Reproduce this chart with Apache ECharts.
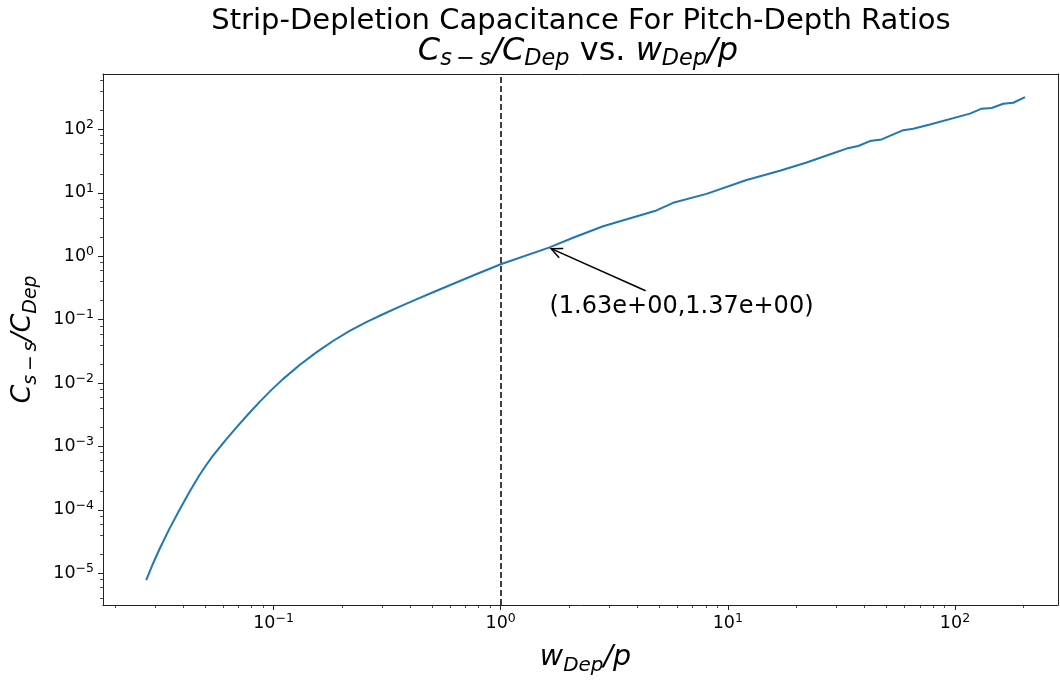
<!DOCTYPE html>
<html><head><meta charset="utf-8">
<script src="https://cdn.jsdelivr.net/npm/echarts@6/dist/echarts.min.js"></script>
<style>html,body{margin:0;padding:0;background:#fff}#c{width:1060px;height:681px}</style>
</head><body><div id="c"></div>
<script>
// ---- data ----
const xValues = [0.02749,0.0294,0.03147,0.03481,0.03855,0.04266,0.04721,0.05051,0.054,0.06082,0.06849,0.07709,0.0868,0.09763,0.1099,0.1302,0.1542,0.1826,0.2162,0.256,0.303,0.359,0.4251,0.5035,0.5963,0.7747,1.0,1.63,2.082,2.823,4.852,5.742,8.056,12.09,16.95,22.22,29.1,33.34,37.5,42.23,47.54,59.19,65.5,77.6,116.4,131.1,145.1,163.2,180.6,203.4];
const yValues = [7.77e-6,1.402e-5,2.414e-5,5.066e-5,1.007e-4,1.939e-4,3.548e-4,5.103e-4,7.106e-4,1.206e-3,1.981e-3,3.196e-3,5.047e-3,7.744e-3,0.01155,0.01925,0.03051,0.04613,0.06659,0.0914,0.1219,0.1608,0.2091,0.2709,0.3498,0.5168,0.7499,1.37,1.958,2.974,5.287,6.975,9.647,15.97,22.3,30.18,42.16,49.97,54.89,65.7,69.75,97.53,102.5,119.7,177.9,212.8,218.3,254.9,264.2,324.4];
const vLineX = [1];
const annotPoint = [1.63, 1.37];
const annotTextPos = [6.25, 0.16];
const annotLabel = '(1.63e+00,1.37e+00)';
const xRange = [0.01774, 284.2];
const yRange = [3.162e-6, 750];
const xMajorTicks = [0.1, 1, 10, 100];
const xMinorTicks = [0.02,0.03,0.04,0.05,0.06,0.07,0.08,0.09,0.2,0.3,0.4,0.5,0.6,0.7,0.8,0.9,2,3,4,5,6,7,8,9,20,30,40,50,60,70,80,90,200];
const yMajorTicks = [1e-5,1e-4,1e-3,1e-2,1e-1,1,10,100];
const yMinorTicks = [4e-6,6e-6,8e-6,2e-5,4e-5,6e-5,8e-5,2e-4,4e-4,6e-4,8e-4,2e-3,4e-3,6e-3,8e-3,0.02,0.04,0.06,0.08,0.2,0.4,0.6,0.8,2,4,6,8,20,40,60,80,200,400,600];
const titleLine1 = 'Strip-Depletion Capacitance For Pitch-Depth Ratios';
const titleLine2 = '{i|C}{sub|s\u2009\u2212\u2009s}{i|/C}{sub|Dep}{n| vs. }{i|w}{sub|Dep}{i|/p}';
const xLabel = '{i|w}{sub|Dep}{i|/p}';
const yLabel = '{i|C}{sub|s\u2009\u2212\u2009s}{i|/C}{sub|Dep}';

const FONT = 'DejaVu Sans';
const AX = '#222';
function supLabel(v) {
  const e = Math.round(Math.log10(v));
  if (Math.abs(Math.log10(v) - e) > 1e-6) return '';
  return '{b|10}{s|' + (e < 0 ? '\u2212' + (-e) : e) + '}';
}
const tickRich = {
  b: {fontFamily: FONT, fontSize: 17.5, lineHeight: 22, color: '#000'},
  s: {fontFamily: FONT, fontSize: 12.5, lineHeight: 13, verticalAlign: 'top', color: '#000'}
};
function mathRich(fs) {
  return {
    i: {fontFamily: FONT, fontStyle: 'italic', fontWeight: 'normal', fontSize: fs, lineHeight: 36, color: '#000'},
    n: {fontFamily: FONT, fontWeight: 'normal', fontSize: fs, lineHeight: 36, color: '#000'},
    sub: {fontFamily: FONT, fontStyle: 'italic', fontWeight: 'normal', fontSize: fs * 0.7, lineHeight: 20, verticalAlign: 'bottom', color: '#000'}
  };
}
const hidden = {axisLabel: {show: false}, splitLine: {show: false}, minorTick: {show: false}, minorSplitLine: {show: false}};

function xAxisDef(extra) {
  return Object.assign({type: 'log', logBase: 10, min: xRange[0], max: xRange[1], gridIndex: 0,
    splitLine: {show: false}, minorTick: {show: false}}, extra);
}
function yAxisDef(extra) {
  return Object.assign({type: 'log', logBase: 10, min: yRange[0], max: yRange[1], gridIndex: 0,
    splitLine: {show: false}, minorTick: {show: false}}, extra);
}

const option = {
  animation: false,
  backgroundColor: '#fff',
  title: [
    {text: titleLine1, left: 576, top: -1, textAlign: 'center',
     textStyle: {fontFamily: FONT, fontSize: 29, fontWeight: 'normal', color: '#000', lineHeight: 34}},
    {text: titleLine2, left: 573, top: 29, textAlign: 'center',
     textStyle: {fontWeight: 'normal', rich: mathRich(32)}}
  ],
  grid: {left: 103, right: 2, top: 74, bottom: 71, containLabel: false},
  xAxis: [
    xAxisDef({position: 'bottom',
      axisLine: {show: true, onZero: false, lineStyle: {color: AX, width: 1}},
      axisTick: {show: true, customValues: xMajorTicks, length: 5, lineStyle: {color: AX, width: 1}},
      axisLabel: {show: true, customValues: xMajorTicks, formatter: supLabel, rich: tickRich, margin: 7},
      name: xLabel, nameLocation: 'middle', nameGap: 35,
      nameTextStyle: {rich: mathRich(28.5), padding: [0, 0, 0, 10]}}),
    xAxisDef(Object.assign({position: 'bottom',
      axisLine: {show: false, onZero: false},
      axisTick: {show: true, customValues: xMinorTicks, length: 3, lineStyle: {color: AX, width: 0.8}}}, hidden)),
    xAxisDef(Object.assign({position: 'top',
      axisLine: {show: true, onZero: false, lineStyle: {color: AX, width: 1}},
      axisTick: {show: false}}, hidden))
  ],
  yAxis: [
    yAxisDef({position: 'left',
      axisLine: {show: true, onZero: false, lineStyle: {color: AX, width: 1}},
      axisTick: {show: true, customValues: yMajorTicks, length: 5, lineStyle: {color: AX, width: 1}},
      axisLabel: {show: true, customValues: yMajorTicks, formatter: supLabel, rich: tickRich, margin: 9},
      name: yLabel, nameLocation: 'middle', nameGap: 62,
      nameTextStyle: {rich: mathRich(27)}}),
    yAxisDef(Object.assign({position: 'left',
      axisLine: {show: false, onZero: false},
      axisTick: {show: true, customValues: yMinorTicks, length: 3, lineStyle: {color: AX, width: 0.8}}}, hidden)),
    yAxisDef(Object.assign({position: 'right',
      axisLine: {show: true, onZero: false, lineStyle: {color: AX, width: 1}},
      axisTick: {show: false}}, hidden))
  ],
  series: [
    {
      type: 'line', xAxisIndex: 0, yAxisIndex: 0,
      data: xValues.map((x, i) => [x, yValues[i]]),
      showSymbol: false, symbol: 'none', clip: true, smooth: false,
      lineStyle: {color: '#1f77b4', width: 2},
      z: 3,
      markLine: {
        silent: true, symbol: ['none', 'none'], label: {show: false},
        lineStyle: {color: '#000', type: [6, 3], width: 1.5},
        data: vLineX.map(v => ({xAxis: v}))
      }
    },
    {
      type: 'custom', xAxisIndex: 0, yAxisIndex: 0, silent: true, z: 10,
      data: [[annotPoint[0], annotPoint[1], annotTextPos[0], annotTextPos[1]]],
      encode: {x: [0, 2], y: [1, 3]},
      renderItem: function (params, api) {
        const pt = api.coord([api.value(0), api.value(1)]);
        const c = api.coord([api.value(2), api.value(3)]);
        const dx = pt[0] - c[0], dy = pt[1] - c[1];
        const len = Math.hypot(dx, dy);
        const ux = dx / len, uy = dy / len;
        const t = 16 / Math.abs(dy);
        const tail = [c[0] + dx * t, c[1] + dy * t];
        const tip = [pt[0] - ux * 2.5, pt[1] - uy * 2.5];
        const hl = 11, hw = 5;
        const w1 = [tip[0] - ux * hl - uy * hw, tip[1] - uy * hl + ux * hw];
        const w2 = [tip[0] - ux * hl + uy * hw, tip[1] - uy * hl - ux * hw];
        return {
          type: 'group',
          children: [
            {type: 'line', shape: {x1: tail[0], y1: tail[1], x2: tip[0], y2: tip[1]},
             style: {stroke: '#000', lineWidth: 1.5}},
            {type: 'polyline', shape: {points: [w1, tip, w2]},
             style: {stroke: '#000', lineWidth: 1.5, fill: null}},
            {type: 'text', x: c[0], y: c[1],
             style: {text: annotLabel, fontFamily: FONT, fontSize: 24, fill: '#000',
                     align: 'center', verticalAlign: 'middle'}}
          ]
        };
      }
    }
  ]
};
const chart = echarts.init(document.getElementById('c'), null, {renderer: 'canvas'});
chart.setOption(option);
</script>
</body></html>
